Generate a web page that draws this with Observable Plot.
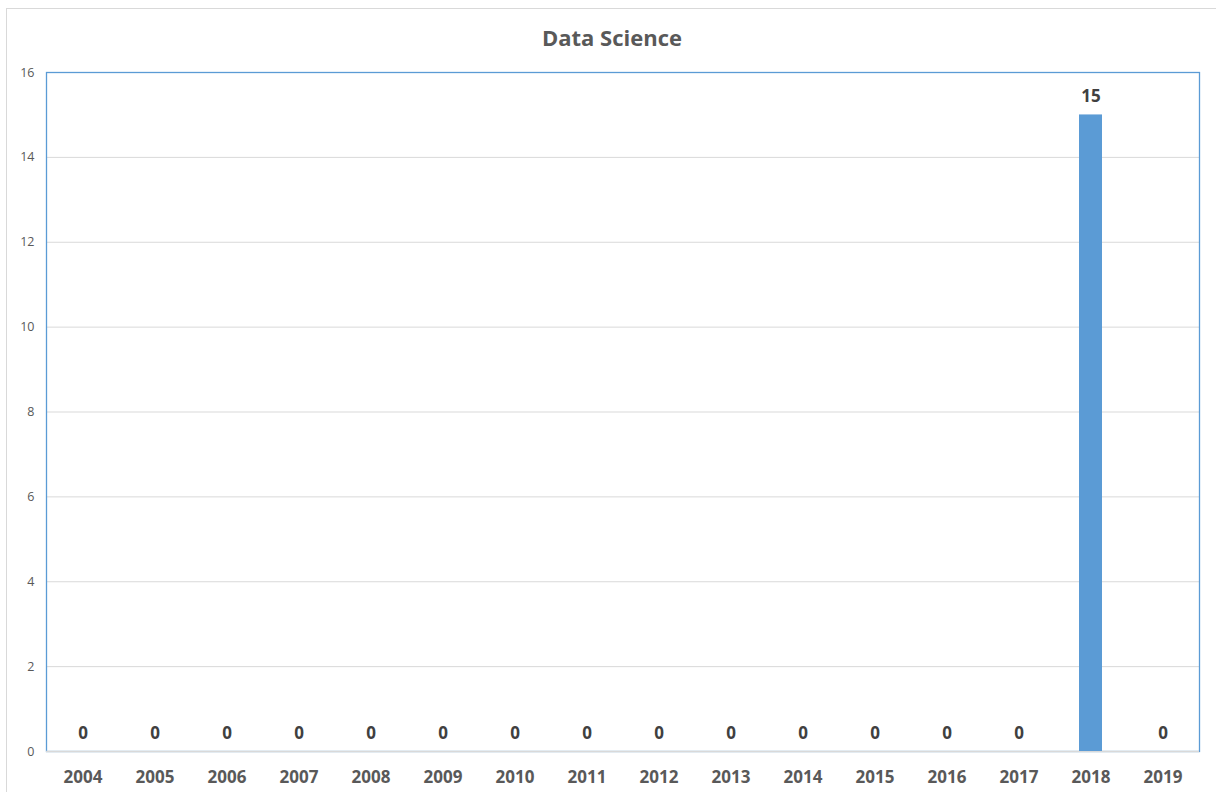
<!DOCTYPE html>
<html>
<head>
<meta charset="utf-8">
<script src="https://cdn.jsdelivr.net/npm/d3@7"></script>
<script src="https://cdn.jsdelivr.net/npm/@observablehq/plot@0.6"></script>
<style>
  html, body { margin: 0; padding: 0; background: #fff; width: 1216px; height: 792px; overflow: hidden; }
  #frame { position: absolute; left: 6px; top: 8px; width: 1220px; height: 800px; border: 1px solid #d9d9d9; box-sizing: border-box; }
  #title { position: absolute; left: 0; top: 22px; width: 1224px; text-align: center; font-family: "Open Sans", sans-serif; font-weight: bold; font-size: 22px; color: #595959; }
  #chart { position: absolute; left: 0; top: 62px; }
</style>
</head>
<body>
<div id="frame"></div>
<div id="title">Data Science</div>
<div id="chart"></div>
<script>
const years = ["2004","2005","2006","2007","2008","2009","2010","2011","2012","2013","2014","2015","2016","2017","2018","2019"];
const counts = [0,0,0,0,0,0,0,0,0,0,0,0,0,0,15,0];
const yTicks = [0,2,4,6,8,10,12,14,16];

const data = years.map((y, i) => ({year: y, count: counts[i]}));

const chart = Plot.plot({
  width: 1216,
  height: 730,
  marginTop: 10,
  marginLeft: 46,
  marginRight: 17,
  marginBottom: 41,
  style: { fontFamily: "'Open Sans', sans-serif", background: "transparent" },
  x: { domain: years, paddingInner: 0.68, paddingOuter: 0.34, label: null },
  y: { domain: [0, 16], label: null },
  marks: [
    Plot.ruleY(yTicks.filter(d => d > 0 && d < 16), { stroke: "#d9d9d9", strokeWidth: 1 }),
    Plot.frame({ stroke: "#5b9bd5", strokeWidth: 1.3 }),
    Plot.ruleY([0], { stroke: "#d9d9d9", strokeWidth: 1.5 }),
    Plot.barY(data, { x: "year", y: "count", fill: "#5b9bd5" }),
    Plot.text(data, { x: "year", y: "count", text: d => String(d.count), dy: -18, fontWeight: "bold", fontSize: 17, fill: "#404040" }),
    Plot.axisY({ ticks: yTicks, tickSize: 0, tickPadding: 12, fontSize: 12.5, color: "#595959", label: null }),
    Plot.axisX({ tickSize: 0, tickPadding: 19, fontSize: 17, fontWeight: "bold", color: "#595959", label: null })
  ]
});
document.getElementById("chart").appendChild(chart);
</script>
</body>
</html>
